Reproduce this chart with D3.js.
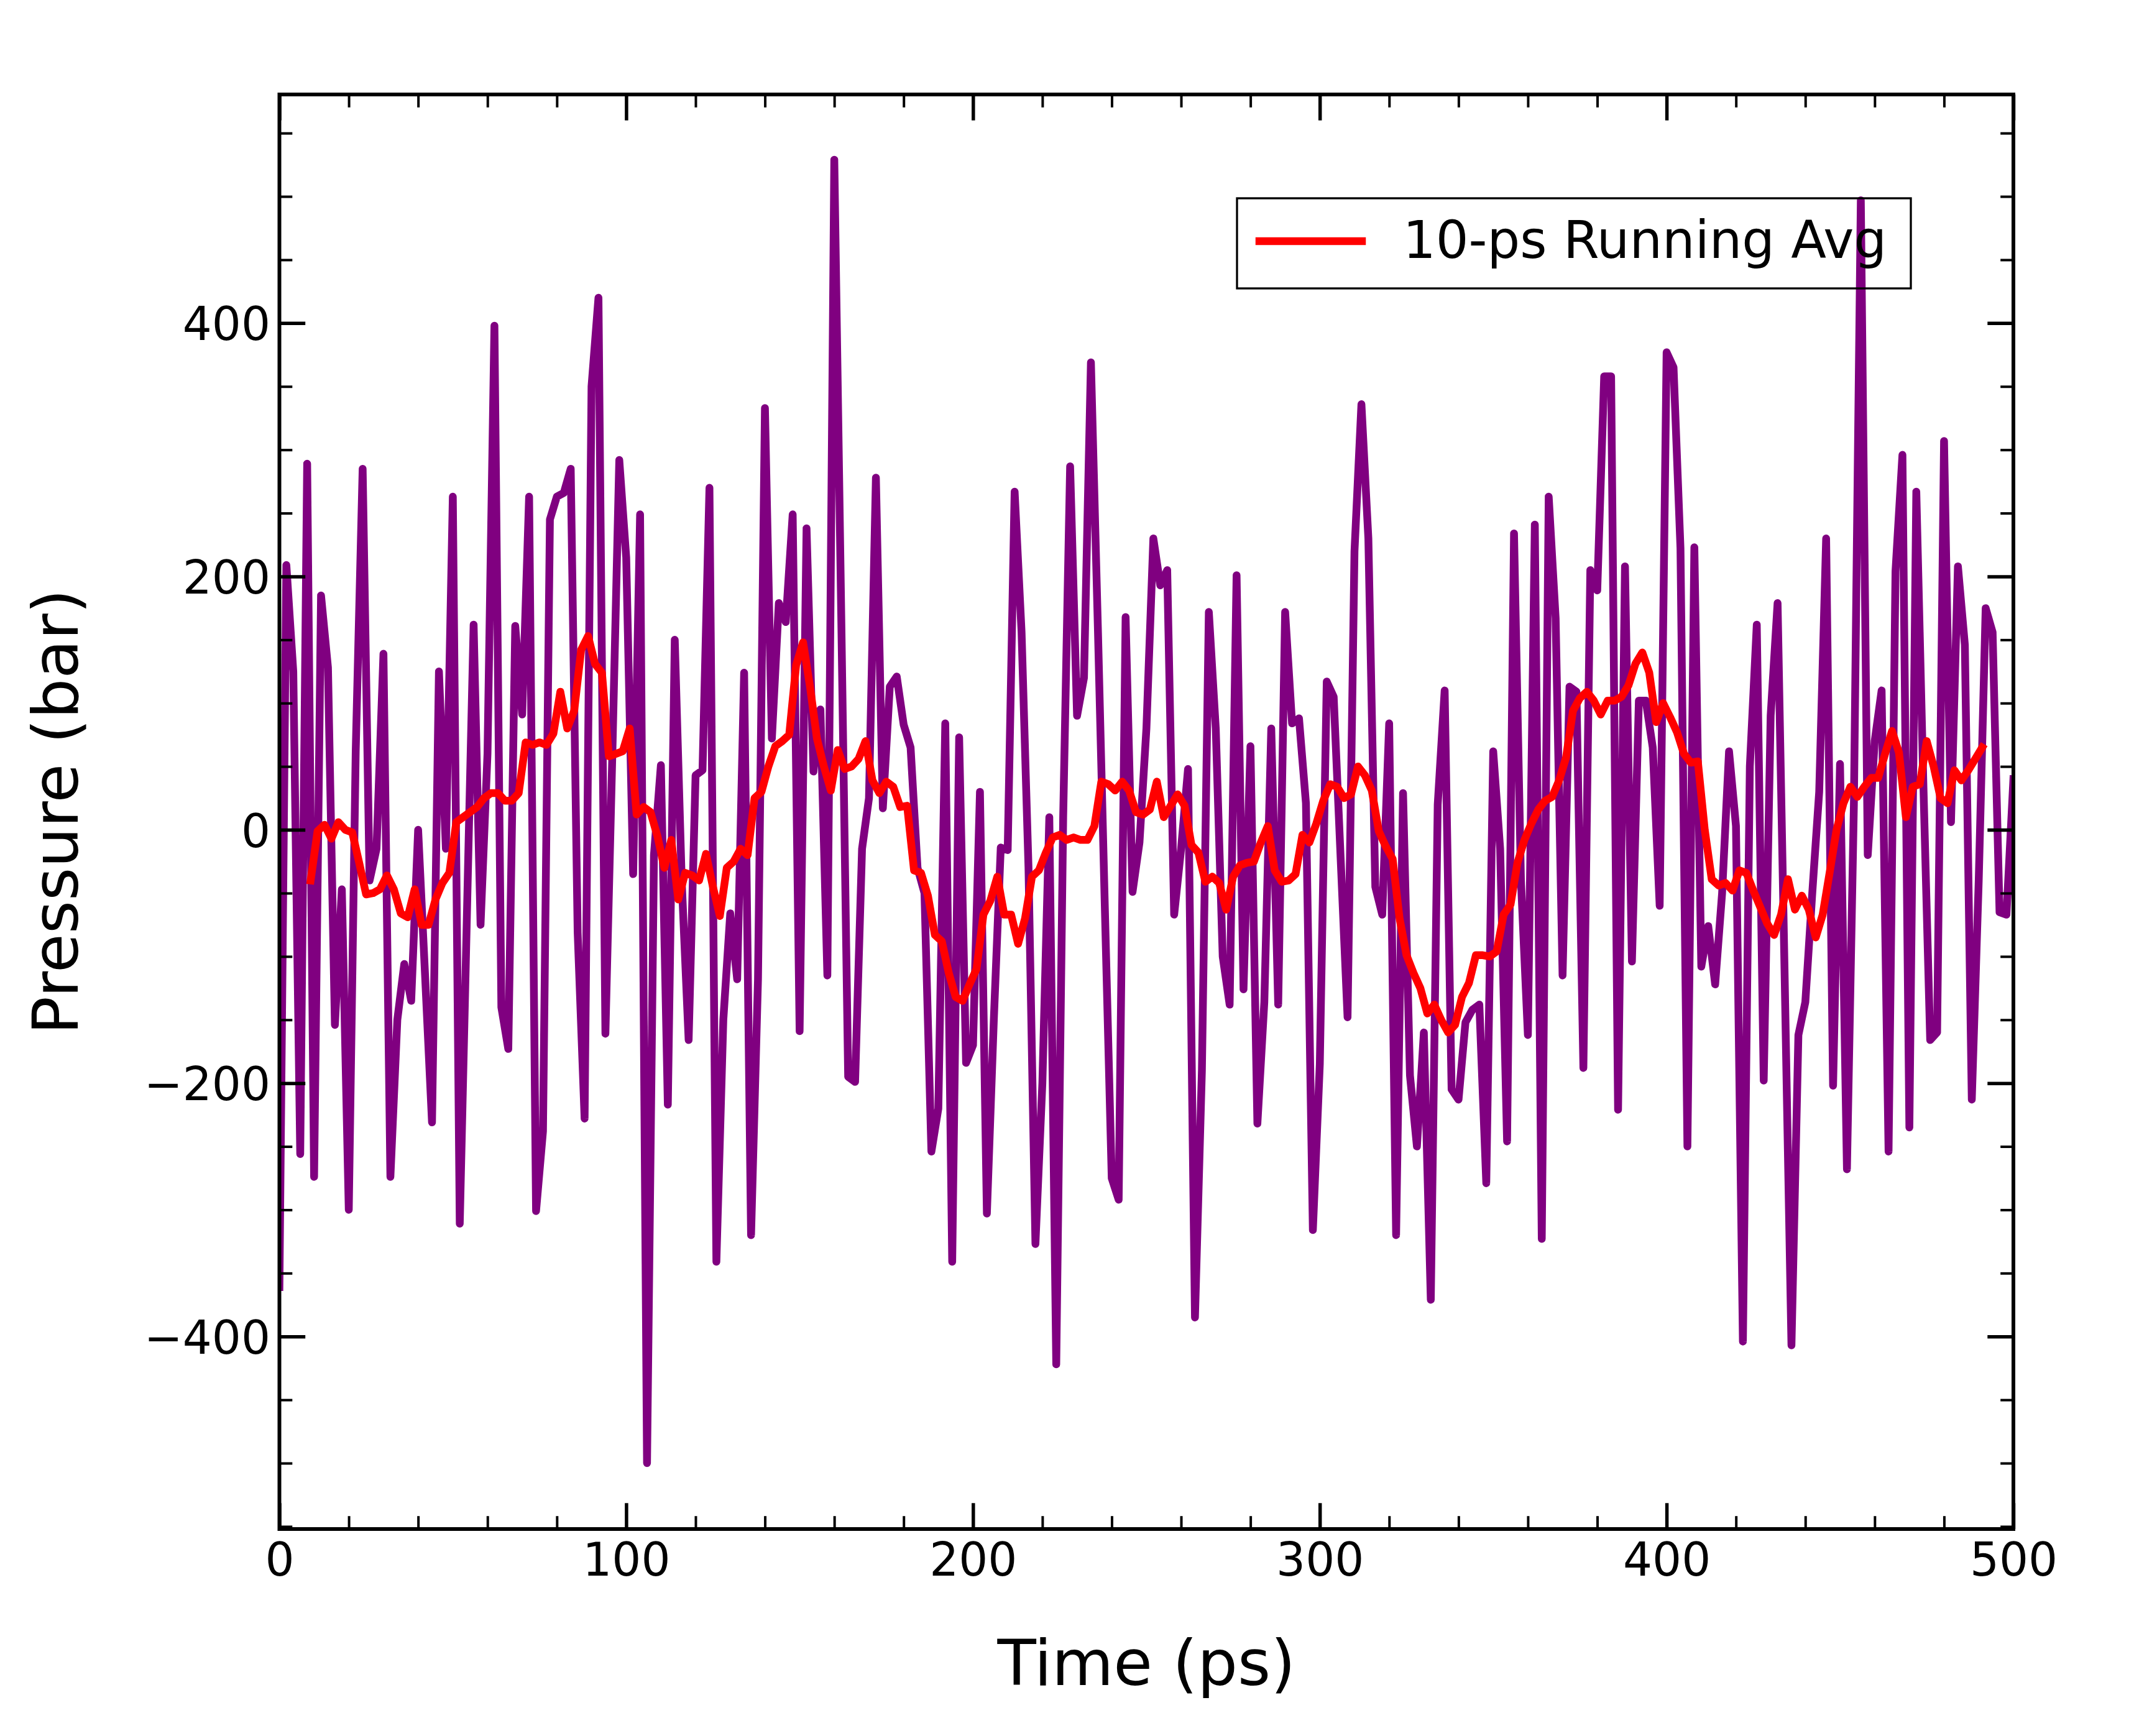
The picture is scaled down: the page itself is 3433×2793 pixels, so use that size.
<!DOCTYPE html>
<html>
<head>
<meta charset="utf-8">
<script src="https://cdn.jsdelivr.net/npm/d3@7"></script>
<style>
html, body { margin: 0; padding: 0; background: #ffffff; }
svg { display: block; }
</style>
</head>
<body>
<div id="chart"></div>
<script>
// ---------------- DATA ----------------
// Pressure samples every 2 ps, t = 0 ... 500 ps
const pressureTimes = d3.range(0, 501, 2);
const pressureValues = [
  -361, 209, 125, -256, 289, -274, 185, 128, -154, -47,
  -300, 62, 285, -40, -15, 139, -274, -150, -106, -135,
  0, -115, -231, 125, -15, 263, -311, -75, 162, -75,
  60, 398, -140, -173, 161, 91, 263, -301, -238, 245,
  263, 266, 285, -81, -228, 350, 420, -161, 60, 292,
  215, -35, 249, -500, -20, 51, -217, 150, -40, -166,
  43, 47, 270, -341, -150, -66, -118, 124, -320, -118,
  333, 72, 179, 164, 249, -159, 238, 46, 95, -115,
  529, 170, -195, -199, -15, 25, 278, 17, 113, 121,
  83, 65, -30, -50, -254, -220, 84, -341, 73, -184,
  -170, 30, -303, -150, -14, -16, 267, 156, -30, -327,
  -200, 10, -422, 10, 287, 90, 120, 369, 160, -60,
  -275, -292, 168, -49, -10, 80, 230, 193, 205, -67,
  -15, 48, -385, -190, 172, 80, -100, -138, 201, -126,
  66, -232, -136, 80, -138, 172, 84, 88, 21, -316,
  -185, 117, 105, -22, -148, 220, 336, 230, -45, -67,
  84, -320, 29, -194, -250, -160, -371, 20, 110, -205,
  -213, -152, -142, -138, -279, 62, -15, -246, 234, -40,
  -162, 241, -323, 263, 167, -115, 113, 109, -188, 205,
  189, 358, 358, -221, 208, -104, 102, 102, 65, -60,
  377, 365, 222, -250, 223, -108, -76, -122, -50, 62,
  3, -404, 50, 162, -198, 90, 179, -110, -407, -162,
  -136, -50, 30, 230, -202, 52, -268, 20, 497, -20,
  70, 110, -254, 204, 296, -235, 267, 40, -166, -160,
  307, 6, 208, 146, -213, -40, 175, 156, -65, -67,
  40
];

// 10-ps running average, t = 9 ... 491 ps
const avgTimes = d3.range(9, 492, 2);
const avgValues = [
  -40, -1, 4, -7, 6, 0, -2, -26, -51, -50,
  -47, -36, -47, -66, -69, -47, -75, -75, -55, -42,
  -34, 6, 10, 14, 18, 25, 29, 29, 23, 23,
  29, 69, 67, 69, 67, 76, 109, 80, 94, 142,
  153, 131, 124, 58, 60, 62, 80, 12, 18, 14,
  -5, -30, -8, -55, -34, -36, -40, -19, -45, -68,
  -30, -25, -15, -20, 25, 30, 50, 66, 70, 75,
  130, 148, 113, 72, 50, 31, 63, 48, 50, 56,
  70, 39, 29, 38, 34, 18, 19, -32, -34, -52,
  -83, -88, -113, -132, -135, -122, -110, -67, -56, -37,
  -67, -67, -90, -70, -37, -32, -18, -6, -4, -8,
  -6, -8, -8, 3, 38, 36, 31, 38, 31, 14,
  12, 16, 38, 10, 19, 28, 19, -12, -18, -41,
  -37, -42, -63, -37, -28, -26, -25, -10, 3, -32,
  -41, -40, -35, -4, -10, 5, 23, 36, 34, 25,
  28, 50, 43, 31, -1, -13, -23, -70, -99, -113,
  -125, -145, -138, -150, -160, -154, -132, -121, -99, -99,
  -100, -96, -67, -59, -26, -8, 5, 16, 23, 26,
  39, 57, 94, 104, 109, 102, 91, 102, 102, 105,
  114, 131, 140, 124, 85, 100, 89, 77, 60, 53,
  54, 0, -39, -44, -42, -48, -32, -34, -48, -61,
  -74, -83, -67, -39, -63, -52, -63, -85, -67, -34,
  0, 21, 34, 26, 34, 41, 41, 60, 78, 61,
  10, 34, 36, 70, 50, 25, 21, 47, 39, 47,
  56, 65
];

const xMajorTicks = [0, 100, 200, 300, 400, 500];
const xMinorTicks = [20, 40, 60, 80, 120, 140, 160, 180, 220, 240, 260, 280,
                     320, 340, 360, 380, 420, 440, 460, 480];
const yMajorTicks = [-400, -200, 0, 200, 400];
const yMinorTicks = [-550, -500, -450, -350, -300, -250, -150, -100, -50,
                     50, 100, 150, 250, 300, 350, 450, 500, 550];
const xDomain = [0, 500];
const yDomain = [-552, 580.5];
const xLabelText = "Time (ps)";
const yLabelText = "Pressure (bar)";
const legendText = "10-ps Running Avg";

// ---------------- LAYOUT ----------------
const W = 3433, H = 2793;
const plot = { left: 449.5, right: 3239, top: 152, bottom: 2460 };
const FONT = "'DejaVu Sans', 'Liberation Sans', sans-serif";
const purple = "#800080", red = "#ff0000";

const svg = d3.select("#chart").append("svg")
  .attr("width", W).attr("height", H)
  .attr("viewBox", `0 0 ${W} ${H}`);

svg.append("rect").attr("width", W).attr("height", H).attr("fill", "#ffffff");

const x = d3.scaleLinear().domain(xDomain).range([plot.left, plot.right]);
const y = d3.scaleLinear().domain(yDomain).range([plot.bottom, plot.top]);

svg.append("defs").append("clipPath").attr("id", "plotclip")
  .append("rect")
  .attr("x", plot.left).attr("y", plot.top)
  .attr("width", plot.right - plot.left).attr("height", plot.bottom - plot.top);

const pressureData = pressureTimes.map((t, i) => [t, pressureValues[i]]);
const avgData = avgTimes.map((t, i) => [t, avgValues[i]]);

const line = d3.line().x(d => x(d[0])).y(d => y(d[1]));

const lines = svg.append("g").attr("clip-path", "url(#plotclip)");
lines.append("path").datum(pressureData)
  .attr("d", line)
  .attr("fill", "none").attr("stroke", purple)
  .attr("stroke-width", 12.5)
  .attr("stroke-linejoin", "round").attr("stroke-linecap", "square");
lines.append("path").datum(avgData)
  .attr("d", line)
  .attr("fill", "none").attr("stroke", red)
  .attr("stroke-width", 12.5)
  .attr("stroke-linejoin", "round").attr("stroke-linecap", "square");

// ---------------- AXES ----------------
const MAJ = 41.7, MIN = 20.8;
function styleAxis(g, width) {
  g.select(".domain").remove();
  g.selectAll(".tick line").attr("stroke", "#000").attr("stroke-width", width);
  g.selectAll(".tick text")
    .attr("fill", "#000")
    .attr("font-family", FONT)
    .attr("font-size", 74);
}

// bottom
const gxb = svg.append("g").attr("transform", `translate(0,${plot.bottom})`)
  .call(d3.axisBottom(x).tickValues(xMajorTicks).tickSize(-MAJ).tickPadding(22.5)
        .tickFormat(d3.format("d")));
styleAxis(gxb, 5.5);
gxb.selectAll(".tick text").attr("dy", "0.71em");
const gxbm = svg.append("g").attr("transform", `translate(0,${plot.bottom})`)
  .call(d3.axisBottom(x).tickValues(xMinorTicks).tickSize(-MIN).tickFormat(""));
styleAxis(gxbm, 4);

// top
const gxt = svg.append("g").attr("transform", `translate(0,${plot.top})`)
  .call(d3.axisTop(x).tickValues(xMajorTicks).tickSize(-MAJ).tickFormat(""));
styleAxis(gxt, 5.5);
const gxtm = svg.append("g").attr("transform", `translate(0,${plot.top})`)
  .call(d3.axisTop(x).tickValues(xMinorTicks).tickSize(-MIN).tickFormat(""));
styleAxis(gxtm, 4);

// left
const yFmt = d => (d < 0 ? "\u2212" + Math.abs(d) : String(d));
const gyl = svg.append("g").attr("transform", `translate(${plot.left},0)`)
  .call(d3.axisLeft(y).tickValues(yMajorTicks).tickSize(-MAJ).tickPadding(14.5)
        .tickFormat(yFmt));
styleAxis(gyl, 5.5);
gyl.selectAll(".tick text").attr("dy", "0.365em");
const gylm = svg.append("g").attr("transform", `translate(${plot.left},0)`)
  .call(d3.axisLeft(y).tickValues(yMinorTicks).tickSize(-MIN).tickFormat(""));
styleAxis(gylm, 4);

// right
const gyr = svg.append("g").attr("transform", `translate(${plot.right},0)`)
  .call(d3.axisRight(y).tickValues(yMajorTicks).tickSize(-MAJ).tickFormat(""));
styleAxis(gyr, 5.5);
const gyrm = svg.append("g").attr("transform", `translate(${plot.right},0)`)
  .call(d3.axisRight(y).tickValues(yMinorTicks).tickSize(-MIN).tickFormat(""));
styleAxis(gyrm, 4);

// frame
svg.append("rect")
  .attr("x", plot.left).attr("y", plot.top)
  .attr("width", plot.right - plot.left).attr("height", plot.bottom - plot.top)
  .attr("fill", "none").attr("stroke", "#000").attr("stroke-width", 6)
  .attr("stroke-linejoin", "miter");

// axis labels
svg.append("text")
  .attr("x", (plot.left + plot.right) / 2).attr("y", 2711)
  .attr("text-anchor", "middle")
  .attr("font-family", FONT).attr("font-size", 102).attr("fill", "#000")
  .text(xLabelText);

svg.append("text")
  .attr("transform", `translate(125,${(plot.top + plot.bottom) / 2}) rotate(-90)`)
  .attr("text-anchor", "middle")
  .attr("font-family", FONT).attr("font-size", 102).attr("fill", "#000")
  .text(yLabelText);

// ---------------- LEGEND ----------------
const lg = svg.append("g");
lg.append("rect")
  .attr("x", 1990).attr("y", 319).attr("width", 1084).attr("height", 145)
  .attr("fill", "none").attr("stroke", "#000").attr("stroke-width", 3.3);
lg.append("line")
  .attr("x1", 2026).attr("x2", 2191).attr("y1", 388).attr("y2", 388)
  .attr("stroke", red).attr("stroke-width", 12.5).attr("stroke-linecap", "square");
lg.append("text")
  .attr("x", 2257).attr("y", 415)
  .attr("font-family", FONT).attr("font-size", 83).attr("fill", "#000")
  .text(legendText);
</script>
</body>
</html>
